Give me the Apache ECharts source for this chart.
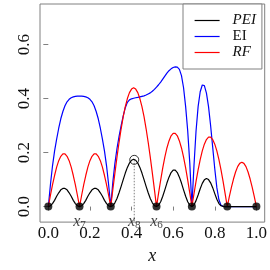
<!DOCTYPE html>
<html>
<head>
<meta charset="utf-8">
<script src="https://cdn.jsdelivr.net/npm/echarts@6/dist/echarts.min.js"></script>
<style>html,body{margin:0;padding:0;background:#fff}#c{width:270px;height:270px}</style>
</head>
<body>
<div id="c"></div>
<script>
// x grid of the curves
var xGrid = [0.00,0.01,0.02,0.03,0.04,0.05,0.06,0.07,0.08,0.09,
0.10,0.11,0.12,0.13,0.14,0.15,0.16,0.17,0.18,0.19,
0.20,0.21,0.22,0.23,0.24,0.25,0.26,0.27,0.28,0.29,
0.30,0.31,0.32,0.33,0.34,0.35,0.36,0.37,0.38,0.39,
0.40,0.41,0.42,0.43,0.44,0.45,0.46,0.47,0.48,0.49,
0.50,0.51,0.52,0.53,0.54,0.55,0.56,0.57,0.58,0.59,
0.60,0.61,0.62,0.63,0.64,0.65,0.66,0.67,0.68,0.69,
0.70,0.71,0.72,0.73,0.74,0.75,0.76,0.77,0.78,0.79,
0.80,0.81,0.82,0.83,0.84,0.85,0.86,0.87,0.88,0.89,
0.90,0.91,0.92,0.93,0.94,0.95,0.96,0.97,0.98,0.99,1.00];

var peiValues = [0,0.003,0.011,0.023,0.038,0.051,0.062,0.067,0.067,0.062,
0.051,0.038,0.023,0.011,0.003,0,0.003,0.011,0.023,0.038,
0.051,0.062,0.067,0.067,0.062,0.051,0.038,0.023,0.011,0.003,
0,0.0035,0.014,0.030,0.051,0.075,0.100,0.124,0.145,0.161,
0.1715,0.175,0.1715,0.161,0.145,0.124,0.100,0.075,0.051,0.030,
0.014,0.0035,0,0.005,0.018,0.038,0.062,0.087,0.109,0.126,
0.135,0.135,0.126,0.109,0.087,0.062,0.038,0.018,0.005,0,
0.006,0.022,0.043,0.066,0.086,0.099,0.104,0.100,0.088,0.070,
0.048,0.027,0.011,0.003,0.001,0,0,0,0,0,
0,0,0,0,0,0,0,0,0,0,0];

var eiValues = [0,0.08,0.15,0.205,0.25,0.29,0.325,0.352,0.373,0.388,
0.397,0.403,0.406,0.408,0.409,0.409,0.409,0.408,0.406,0.403,
0.397,0.388,0.373,0.352,0.325,0.29,0.25,0.205,0.15,0.08,
0,0.09,0.16,0.215,0.26,0.30,0.336,0.366,0.386,0.395,
0.399,0.401,0.403,0.404,0.406,0.408,0.41,0.413,0.417,0.421,
0.427,0.434,0.442,0.451,0.461,0.472,0.483,0.494,0.503,0.510,
0.515,0.517,0.516,0.508,0.485,0.44,0.37,0.28,0.16,0,
0.15,0.28,0.37,0.425,0.45,0.448,0.42,0.37,0.30,0.22,
0.14,0.07,0.025,0.005,0.001,0,0,0,0,0,
0,0,0,0,0,0,0,0,0,0,0];

var rfValues = [0,0.041,0.080,0.115,0.146,0.170,0.186,0.195,0.195,0.186,
0.170,0.146,0.115,0.080,0.041,0,0.041,0.080,0.115,0.146,
0.170,0.186,0.195,0.195,0.186,0.170,0.146,0.115,0.080,0.041,
0,0.063,0.124,0.183,0.238,0.288,0.333,0.370,0.400,0.422,
0.435,0.44,0.435,0.422,0.400,0.370,0.333,0.288,0.238,0.183,
0.124,0.063,0,0.050,0.098,0.143,0.183,0.217,0.243,0.262,
0.271,0.271,0.262,0.243,0.217,0.183,0.143,0.098,0.050,0,
0.047,0.093,0.136,0.174,0.206,0.231,0.248,0.257,0.257,0.248,
0.231,0.206,0.174,0.136,0.093,0.047,0,0.037,0.071,0.102,
0.128,0.148,0.160,0.164,0.160,0.148,0.128,0.102,0.071,0.037,0];

// design points (filled) and the new point (open)
var designX = [0, 0.15, 0.30, 0.52, 0.69, 0.86, 1.0];
var designY = [0, 0, 0, 0, 0, 0, 0];
var newPointX = [0.413];
var newPointY = [0.173];

// point labels x_7, x_8, x_6
var labelX = [0.15, 0.413, 0.52];
var labelSub = ['7', '8', '6'];
var labelY = -0.056;

var xTicks = [0, 0.2, 0.4, 0.6, 0.8, 1.0];
var yTicks = [0, 0.2, 0.4, 0.6];
var seriesNames = ['PEI', 'EI', 'RF'];

var xMin = -0.04, xMax = 1.04, yMin = -0.0575, yMax = 0.75;

function pairs(xs, ys){ return xs.map(function(x,i){ return [x, ys[i]]; }); }

var serif = '"Liberation Serif", "DejaVu Serif", serif';
var chart = echarts.init(document.getElementById('c'), null, {renderer:'canvas'});
chart.setOption({
  animation: false,
  backgroundColor: '#fff',
  grid: {left: 40, right: 4.3, top: 4, bottom: 41, show: true, borderColor: '#808080', borderWidth: 1, containLabel: false},
  xAxis: {
    type: 'value', min: xMin, max: xMax,
    axisLine: {show: false},
    splitLine: {show: false},
    axisTick: {show: true, length: 4, customValues: xTicks, lineStyle: {color: '#808080'}},
    axisLabel: {customValues: xTicks, margin: 3, color: '#111', fontFamily: serif, fontSize: 17,
      formatter: function(v){ return v.toFixed(1); }},
    name: 'x', nameLocation: 'middle', nameGap: 22,
    nameTextStyle: {fontFamily: serif, fontStyle: 'italic', fontSize: 18, color: '#111'}
  },
  yAxis: {
    type: 'value', min: yMin, max: yMax,
    axisLine: {show: false},
    splitLine: {show: false},
    axisTick: {show: true, length: 5, customValues: yTicks, lineStyle: {color: '#808080'}},
    axisLabel: {customValues: yTicks, rotate: 90, margin: 7, color: '#111', fontFamily: serif, fontSize: 17,
      formatter: function(v){ return v.toFixed(1); }}
  },
  legend: {
    orient: 'vertical', left: 183, top: 4,
    data: seriesNames,
    padding: [9, 6, 9, 11],
    itemWidth: 25, itemHeight: 10, itemGap: 1,
    itemStyle: {opacity: 0},
    lineStyle: {width: 1.2},
    backgroundColor: '#fff', borderColor: '#808080', borderWidth: 1, borderRadius: 0,
    formatter: function(n){ return n === 'EI' ? '{n|EI}' : '{i|' + n + '}'; },
    textStyle: {
      fontSize: 14, lineHeight: 15, fontFamily: serif,
      rich: {
        i: {fontFamily: serif, fontStyle: 'italic', fontSize: 15, lineHeight: 15, color: '#111', padding: [0, 0, 0, 8]},
        n: {fontFamily: serif, fontSize: 15, lineHeight: 15, color: '#111', padding: [0, 0, 0, 8]}
      }
    }
  },
  series: [
    {name: 'EI', type: 'line', data: pairs(xGrid, eiValues), symbol: 'none', lineStyle: {color: '#0000ff', width: 1.2}, itemStyle: {color: '#0000ff'}, z: 2},
    {name: 'RF', type: 'line', data: pairs(xGrid, rfValues), symbol: 'none', lineStyle: {color: '#ff0000', width: 1.2}, itemStyle: {color: '#ff0000'}, z: 2},
    {name: 'PEI', type: 'line', data: pairs(xGrid, peiValues), symbol: 'none', lineStyle: {color: '#000000', width: 1.2}, itemStyle: {color: '#000000'}, z: 3},
    {type: 'line', data: [[newPointX[0], newPointY[0]], [newPointX[0], yMin]], symbol: 'none',
      lineStyle: {color: '#808080', width: 1, type: [1.5, 1.5]}, z: 1, silent: true},
    {type: 'scatter', data: pairs(designX, designY), symbol: 'circle', symbolSize: 8, itemStyle: {color: '#000'}, z: 4, silent: true},
    {type: 'scatter', data: pairs(newPointX, newPointY), symbol: 'circle', symbolSize: 9,
      itemStyle: {color: 'rgba(255,255,255,0)', borderColor: '#000', borderWidth: 1}, z: 4, silent: true},
    {type: 'scatter', data: labelX.map(function(x){ return [x, labelY]; }), symbolSize: 0, z: 5, silent: true,
      label: {show: true, position: 'inside',
        formatter: function(p){ return '{x|x}{s|' + labelSub[p.dataIndex] + '}'; },
        rich: {
          x: {fontFamily: serif, fontStyle: 'italic', fontSize: 16, lineHeight: 16, verticalAlign: 'top', color: '#111'},
          s: {fontFamily: serif, fontSize: 11, lineHeight: 16, verticalAlign: 'top', padding: [6, 0, 0, 0], color: '#111'}
        }}}
  ]
});
</script>
</body>
</html>
